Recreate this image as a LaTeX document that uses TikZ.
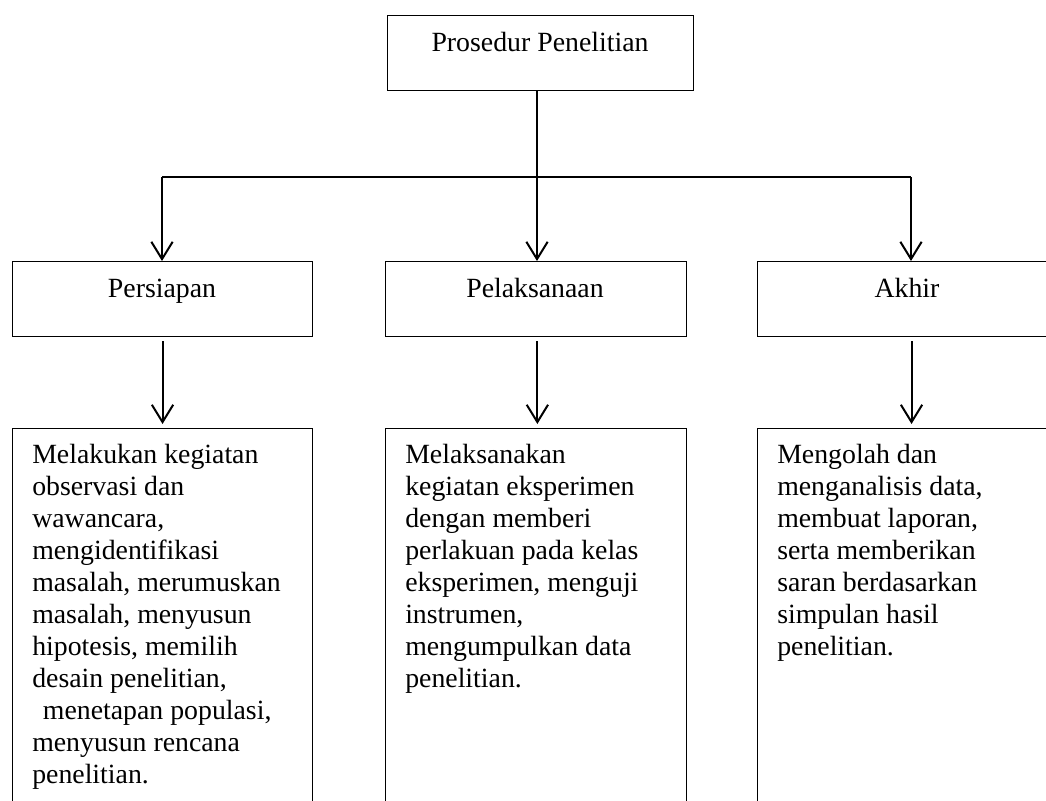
\documentclass[tikz,border=0pt]{standalone}
\usepackage{fontspec}
\setmainfont{Liberation Serif}
\usetikzlibrary{arrows.meta}
\tikzset{
  box/.style={draw=black, line width=0.8pt, minimum width=#1, minimum height=56.25pt, inner sep=0pt, anchor=north west},
  tallbox/.style={draw=black, line width=0.8pt, minimum width=#1, minimum height=300pt, inner sep=0pt, anchor=north west},
  lbl/.style={inner sep=0pt, anchor=base, font=\fontsize{20.85}{24}\selectfont},
  desc/.style={inner sep=0pt, anchor=base west, font=\fontsize{20.85}{24}\selectfont},
  conn/.style={line width=1.5pt},
  arr/.style={line width=1.5pt, -{Straight Barb[length=13pt,width=16pt]}}
}
\begin{document}
\begin{tikzpicture}[x=0.75pt,y=-0.75pt]
\useasboundingbox (0,0) rectangle (1046,800);
\clip (0,0) rectangle (1046,800);
\fill[white] (0,0) rectangle (1046,800);
% top box
\node[box=229.5pt] (top) at (387,15) {};
\node[lbl] (ttop) at (540,51) {Prosedur Penelitian};
% level 2
\node[box=225pt] (b1) at (12,261) {};
\node[box=225.75pt] (b2) at (385,261) {};
\node[box=225pt] (b3) at (757,261) {};
\node[lbl] (tb1) at (162,297) {Persiapan};
\node[lbl] (tb2) at (535,297) {Pelaksanaan};
\node[lbl] (tb3) at (907,297) {Akhir};
% level 3
\node[tallbox=225pt] (c1) at (12,428) {};
\node[tallbox=225.75pt] (c2) at (385,428) {};
\node[tallbox=225pt] (c3) at (757,428) {};
\node[desc] (tc1) at (32,463) {\parbox[t]{220pt}{Melakukan kegiatan\\observasi dan\\wawancara,\\mengidentifikasi\\masalah, merumuskan\\masalah, menyusun\\hipotesis, memilih\\desain penelitian,\\\hspace*{8pt}menetapan populasi,\\menyusun rencana\\penelitian.}};
\node[desc] (tc2) at (405,463) {\parbox[t]{220pt}{Melaksanakan\\kegiatan eksperimen\\dengan memberi\\perlakuan pada kelas\\eksperimen, menguji\\instrumen,\\mengumpulkan data\\penelitian.}};
\node[desc] (tc3) at (777,463) {\parbox[t]{220pt}{Mengolah dan\\menganalisis data,\\membuat laporan,\\serta memberikan\\saran berdasarkan\\simpulan hasil\\penelitian.}};
% connectors
\coordinate (bus) at (537,177);
\coordinate (busL) at (162,177);
\coordinate (busR) at (911,177);
\draw[conn] (bus |- top.south) -- (bus);
\draw[conn] (busL) -- (busR);
\draw[arr] (busL) -- (busL |- b1.north);
\draw[arr] (bus) -- (bus |- b2.north);
\draw[arr] (busR) -- (busR |- b3.north);
\draw[arr] ([yshift=-3pt]b1.south) -- ([yshift=3pt]c1.north);
\draw[arr] ([xshift=1pt,yshift=-3pt]b2.south) -- ([xshift=1pt,yshift=3pt]c2.north);
\draw[arr] ([xshift=3pt,yshift=-3pt]b3.south) -- ([xshift=3pt,yshift=3pt]c3.north);
\end{tikzpicture}
\end{document}
